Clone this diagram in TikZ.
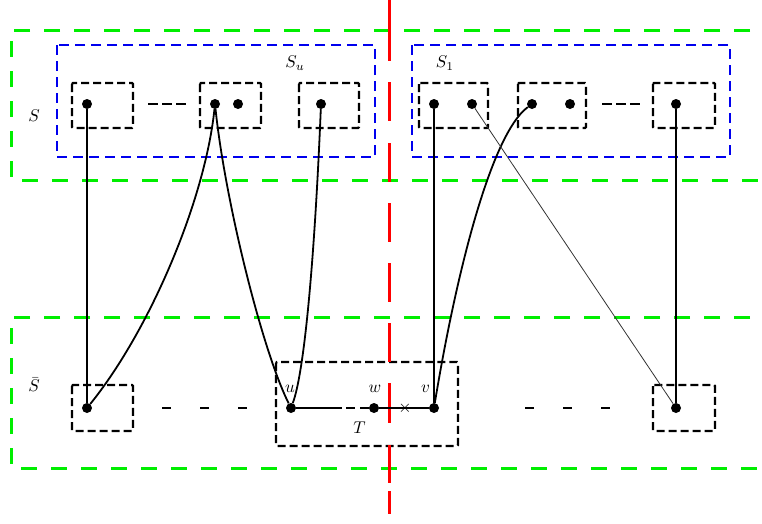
\documentclass[tikz,border=0pt]{standalone}
\definecolor{grn}{RGB}{0,238,0}
\definecolor{blu}{RGB}{0,0,238}
\definecolor{rd}{RGB}{255,0,0}
\begin{document}
\begin{tikzpicture}[x=1pt,y=-1pt,
  dot/.style={circle,fill=black,inner sep=0pt,minimum size=10pt},
  grp/.style={draw=black,line width=2.2pt,dash pattern=on 8pt off 4pt,rounded corners=1pt},
  greenline/.style={draw=grn,line width=3pt,dash pattern=on 16pt off 14pt},
  blueline/.style={draw=blu,line width=2pt,dash pattern=on 10pt off 6pt},
  conn/.style={draw=black,line width=1.8pt},
  thinconn/.style={draw=black!80,line width=0.8pt},
  gapdash/.style={draw=black,line width=2.5pt,dash pattern=on 10pt off 4pt},
  farfill/.style={draw=black,line width=1.5pt,dash pattern=on 9pt off 29pt},
  lbl/.style={inner sep=0pt,scale=1.7}]
\useasboundingbox (0,0) rectangle (762,523);

% green regions
\draw[greenline] (780,30) -| (11,180) -- (780,180);
\draw[greenline] (780,317) -| (11,468) -- (780,468);

% blue regions
\draw[blueline] (57,45) rectangle (375,157);
\draw[blueline] (412,45) rectangle (730,157);

% group boxes top
\draw[grp] (72,83) rectangle (133,128);
\draw[grp] (200,83) rectangle (261,128);
\draw[grp] (299,83) rectangle (359,128);
\draw[grp] (419,83) rectangle (488,128);
\draw[grp] (518,83) rectangle (586,128);
\draw[grp] (653,83) rectangle (715,128);

% group boxes bottom
\draw[grp] (72,385) rectangle (133,431);
\draw[grp] (276,362) rectangle (458,446);
\draw[grp] (653,385) rectangle (715,431);

% dashes between boxes
\coordinate (g1a) at (148,104); \coordinate (g1b) at (187,104);
\coordinate (g2a) at (602,104); \coordinate (g2b) at (640,104);
\draw[gapdash] (g1a) -- (g1b);
\draw[gapdash] (g2a) -- (g2b);
\coordinate (f1a) at (162,408); \coordinate (f1b) at (247,408);
\coordinate (f2a) at (525,408); \coordinate (f2b) at (610,408);
\draw[farfill] (f1a) -- (f1b);
\draw[farfill] (f2a) -- (f2b);

% red cut
\coordinate (r1) at (389,0); \coordinate (r2) at (389,514);
\draw[draw=rd,line width=3pt,dash pattern=on 61pt off 21pt on 39pt off 22pt on 39pt off 21pt on 39pt off 21pt on 39pt off 21pt on 39pt off 21pt on 40pt off 22pt on 38pt off 8pt on 23pt off 100pt] (r1) -- (r2);

% dots top
\node[dot] (a1) at (87,104) {};
\node[dot] (a2) at (215,104) {};
\node[dot] (a3) at (238,104) {};
\node[dot] (a4) at (321,104) {};
\node[dot] (a5) at (434,104) {};
\node[dot] (a6) at (472,104) {};
\node[dot] (a7) at (532,104) {};
\node[dot] (a8) at (570,104) {};
\node[dot] (a9) at (676,104) {};

% dots bottom
\node[dot] (b1) at (87,408) {};
\node[dot] (u) at (291,408) {};
\node[dot] (w) at (374,408) {};
\node[dot] (v) at (434,408) {};
\node[dot] (b9) at (676,408) {};

% connectors
\draw[conn] (a1) -- (b1);
\draw[conn] (b1) .. controls (150,330) and (205,200) .. (a2);
\draw[conn] (a2) .. controls (225,200) and (262,350) .. (u);
\draw[conn] (u) .. controls (305,370) and (315,250) .. (a4);
\draw[conn] (a5) -- (v);
\draw[conn] (v) .. controls (455,280) and (490,135) .. (a7);
\draw[thinconn] (a6) -- (b9);
\draw[conn] (a9) -- (b9);
\draw[draw=black,line width=1.8pt,dash pattern=on 46pt off 4pt on 9pt off 5pt on 12pt off 10pt] (u) -- (w);
\draw[conn] (w) -- (v);

% labels
\node[lbl] (lS) at (34,116) {$S$};
\node[lbl] (lSu) at (295,63) {$S_u$};
\node[lbl] (lS1) at (445,63) {$S_1$};
\node[lbl] (lSb) at (34,385) {$\bar S$};
\node[lbl] (lu) at (290,389) {$u$};
\node[lbl] (lw) at (375,389) {$w$};
\node[lbl] (lv) at (425.5,389) {$v$};
\node[lbl] (lT) at (359.5,428) {$T$};
\node[lbl] (lx) at (405,408) {$\times$};
\end{tikzpicture}
\end{document}
